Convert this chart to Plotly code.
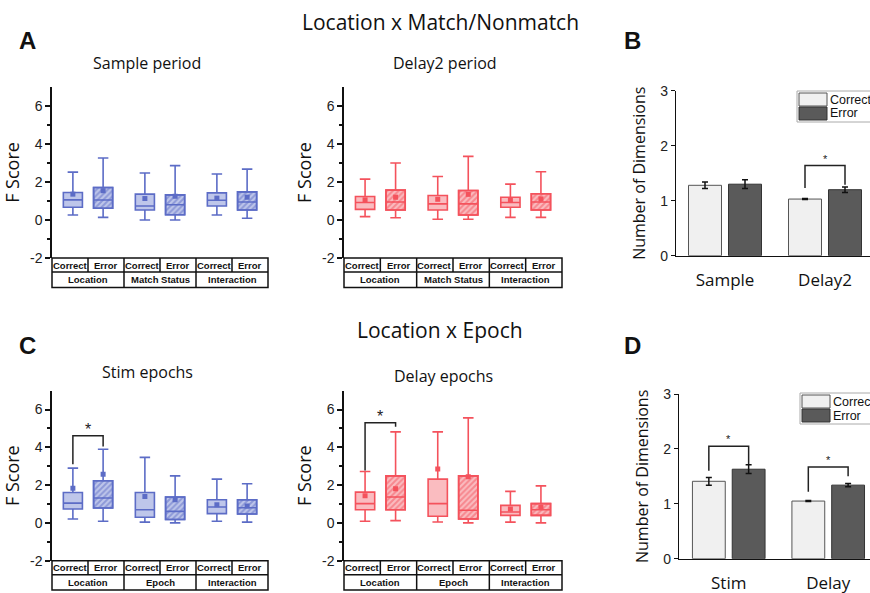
import plotly.graph_objects as go

W, H = 870, 593

# ---------------- data ----------------
box_groups = ["Location", "Match Status", "Interaction"]
box_groups_c = ["Location", "Epoch", "Interaction"]
box_outcomes = ["Correct", "Error"]
box_ticks = [-2, 0, 2, 4, 6]
box_tick_labels = ["-2", "0", "2", "4", "6"]

# order: Location-Correct, Location-Error, Match-Correct, Match-Error, Inter-Correct, Inter-Error
sample_low = [0.26, 0.14, 0.00, 0.00, 0.26, 0.09]
sample_q1 = [0.67, 0.62, 0.53, 0.28, 0.74, 0.53]
sample_med = [1.06, 1.05, 0.74, 0.80, 1.04, 0.95]
sample_q3 = [1.45, 1.71, 1.36, 1.32, 1.43, 1.48]
sample_high = [2.52, 3.26, 2.47, 2.86, 2.42, 2.68]
sample_mean = [1.36, 1.54, 1.13, 1.25, 1.15, 1.20]

delay2_low = [0.18, 0.12, 0.04, 0.04, 0.14, 0.14]
delay2_q1 = [0.56, 0.53, 0.53, 0.26, 0.67, 0.53]
delay2_med = [0.92, 0.95, 0.85, 0.85, 0.92, 0.95]
delay2_q3 = [1.24, 1.57, 1.29, 1.55, 1.20, 1.38]
delay2_high = [2.15, 3.00, 2.29, 3.35, 1.89, 2.54]
delay2_mean = [1.06, 1.20, 1.09, 1.35, 1.06, 1.11]

stim_low = [0.21, 0.09, 0.04, 0.00, 0.09, 0.04]
stim_q1 = [0.74, 0.79, 0.30, 0.18, 0.49, 0.47]
stim_med = [1.05, 1.32, 0.70, 0.61, 0.84, 0.80]
stim_q3 = [1.61, 2.23, 1.61, 1.37, 1.23, 1.23]
stim_high = [2.90, 3.90, 3.47, 2.49, 2.32, 2.07]
stim_mean = [1.84, 2.58, 1.40, 1.23, 0.96, 0.90]

delayep_low = [0.09, 0.12, 0.05, 0.00, 0.04, 0.00]
delayep_q1 = [0.70, 0.70, 0.35, 0.21, 0.40, 0.40]
delayep_med = [1.02, 1.37, 1.02, 0.67, 0.58, 0.70]
delayep_q3 = [1.63, 2.49, 2.32, 2.49, 0.93, 1.02]
delayep_high = [2.72, 4.82, 4.82, 5.56, 1.67, 1.96]
delayep_mean = [1.44, 1.81, 2.86, 2.45, 0.74, 0.82]

# significance brackets in C (Location Correct vs Error): [left foot, top, right foot]
stim_bracket = [3.10, 4.61, 4.04]
delayep_bracket = [2.78, 5.30, 5.09]

b_categories = ["Sample", "Delay2"]
b_correct = [1.28, 1.03]
b_correct_err = [0.06, 0.01]
b_error = [1.30, 1.20]
b_error_err = [0.08, 0.05]
b_bracket_delay2 = [1.23, 1.64, 1.29]

d_categories = ["Stim", "Delay"]
d_correct = [1.41, 1.05]
d_correct_err = [0.07, 0.01]
d_error = [1.63, 1.34]
d_error_err = [0.08, 0.03]
d_bracket_stim = [1.60, 2.05, 1.72]
d_bracket_delay = [1.22, 1.67, 1.50]

# ---------------- style ----------------
BLUE_LINE = "rgb(92,108,198)"
BLUE_FILL = "rgb(190,198,234)"
RED_LINE = "rgb(244,82,92)"
RED_FILL = "rgb(250,188,192)"
SANS = "Open Sans, Noto Sans, sans-serif"
ARIAL = "Liberation Sans, Arial, sans-serif"

GROUP_CENTERS = [1.5, 3.5, 5.5]
BOX_OFF = 0.42
BOX_W = 0.53
positions = []
for c in GROUP_CENTERS:
    positions += [c - BOX_OFF, c + BOX_OFF]

BARGAP = 0.2
BAR_OFF = (1 - BARGAP) / 4


def px(x):
    return x / W


def py(y):
    return 1 - y / H


fig = go.Figure()
shapes = []
annotations = []


def add_box_panel(k, low, q1, med, q3, high, mean, lc, fc, groups, bracket=None):
    xa = "x" if k == 1 else f"x{k}"
    ya = "y" if k == 1 else f"y{k}"
    corr = [0, 2, 4]
    err = [1, 3, 5]
    fig.add_trace(go.Bar(
        x=[positions[i] for i in err], base=[q1[i] for i in err],
        y=[q3[i] - q1[i] for i in err], width=BOX_W,
        marker=dict(color=fc, line=dict(color=lc, width=1.6),
                    pattern=dict(shape="/", fgcolor=lc, bgcolor=fc, size=4, solidity=0.5)),
        xaxis=xa, yaxis=ya, showlegend=False, hoverinfo="skip"))
    for idx, fill in ((corr, fc), (err, "rgba(0,0,0,0)")):
        fig.add_trace(go.Box(
            x=[positions[i] for i in idx], q1=[q1[i] for i in idx],
            median=[med[i] for i in idx], q3=[q3[i] for i in idx],
            lowerfence=[low[i] for i in idx], upperfence=[high[i] for i in idx],
            width=BOX_W, fillcolor=fill, line=dict(color=lc, width=1.6),
            whiskerwidth=0.55, boxpoints=False, xaxis=xa, yaxis=ya,
            showlegend=False, hoverinfo="skip"))
    fig.add_trace(go.Scatter(
        x=positions, y=mean, mode="markers",
        marker=dict(symbol="square", size=5, color=lc),
        xaxis=xa, yaxis=ya, showlegend=False, hoverinfo="skip"))
    if bracket is not None:
        fig.add_trace(go.Scatter(
            x=[positions[0], positions[0], positions[1], positions[1]],
            y=[bracket[0], bracket[1], bracket[1], bracket[2]],
            mode="lines", line=dict(color="#222", width=1.5),
            xaxis=xa, yaxis=ya, showlegend=False, hoverinfo="skip"))
        annotations.append(dict(
            x=(positions[0] + positions[1]) / 2, y=bracket[1], xref=xa, yref=ya,
            text="*", showarrow=False, yanchor="bottom", yshift=-4,
            font=dict(family=ARIAL, size=16, color="#222")))
    # category table below axis
    xd = xa + " domain"
    yd = ya + " domain"
    r1, r2 = -0.082, -0.172
    line = dict(color="#111", width=1.5)
    shapes.append(dict(type="rect", xref=xd, yref=yd, x0=0, x1=1, y0=r2, y1=0, line=line))
    shapes.append(dict(type="line", xref=xd, yref=yd, x0=0, x1=1, y0=r1, y1=r1, line=line))
    for j in range(1, 6):
        shapes.append(dict(type="line", xref=xd, yref=yd, x0=j / 6, x1=j / 6,
                           y0=(r2 if j % 2 == 0 else r1), y1=0, line=line))
    for j in range(6):
        annotations.append(dict(
            x=(j + 0.5) / 6, y=r1 / 2, xref=xd, yref=yd,
            text="<b>" + box_outcomes[j % 2] + "</b>",
            showarrow=False, font=dict(family=ARIAL, size=9.5, color="#111"),
            xanchor="center", yanchor="middle"))
    for g in range(3):
        annotations.append(dict(
            x=(g + 0.5) / 3, y=(r1 + r2) / 2, xref=xd, yref=yd,
            text="<b>" + groups[g] + "</b>",
            showarrow=False, font=dict(family=ARIAL, size=9.5, color="#111"),
            xanchor="center", yanchor="middle"))


add_box_panel(1, sample_low, sample_q1, sample_med, sample_q3, sample_high, sample_mean,
              BLUE_LINE, BLUE_FILL, box_groups)
add_box_panel(2, delay2_low, delay2_q1, delay2_med, delay2_q3, delay2_high, delay2_mean,
              RED_LINE, RED_FILL, box_groups)
add_box_panel(3, stim_low, stim_q1, stim_med, stim_q3, stim_high, stim_mean,
              BLUE_LINE, BLUE_FILL, box_groups_c, stim_bracket)
add_box_panel(4, delayep_low, delayep_q1, delayep_med, delayep_q3, delayep_high, delayep_mean,
              RED_LINE, RED_FILL, box_groups_c, delayep_bracket)


def add_bar_panel(k, cats, corr, corr_err, err, err_err, brackets):
    xa, ya = f"x{k}", f"y{k}"
    xs = list(range(len(cats)))
    fig.add_trace(go.Bar(
        x=xs, y=corr, name="Correct",
        error_y=dict(type="data", array=corr_err, color="#111", thickness=1.5, width=3),
        marker=dict(color="#F0F0F0", line=dict(color="#555", width=1)),
        xaxis=xa, yaxis=ya, showlegend=False))
    fig.add_trace(go.Bar(
        x=xs, y=err, name="Error",
        error_y=dict(type="data", array=err_err, color="#111", thickness=1.5, width=3),
        marker=dict(color="#5A5A5A", line=dict(color="#333", width=1)),
        xaxis=xa, yaxis=ya, showlegend=False))
    for ci, br in brackets:
        fig.add_trace(go.Scatter(
            x=[ci - BAR_OFF, ci - BAR_OFF, ci + BAR_OFF, ci + BAR_OFF],
            y=[br[0], br[1], br[1], br[2]], mode="lines",
            line=dict(color="#222", width=1.5), xaxis=xa, yaxis=ya,
            showlegend=False, hoverinfo="skip"))
        annotations.append(dict(
            x=ci, y=br[1], xref=xa, yref=ya, text="*", showarrow=False,
            yanchor="bottom", yshift=-1, font=dict(family=ARIAL, size=11, color="#222")))


add_bar_panel(5, b_categories, b_correct, b_correct_err, b_error, b_error_err,
              [(1, b_bracket_delay2)])
add_bar_panel(6, d_categories, d_correct, d_correct_err, d_error, d_error_err,
              [(0, d_bracket_stim), (1, d_bracket_delay)])

# custom legends (cut off at the right edge as in the figure)
for (lx, ly) in ((797, 91), (800, 393)):
    shapes.append(dict(type="rect", xref="paper", yref="paper", x0=px(lx), x1=px(lx + 120),
                       y0=py(ly + 31), y1=py(ly), line=dict(color="#AAAAAA", width=1),
                       fillcolor="white", layer="above"))
    shapes.append(dict(type="rect", xref="paper", yref="paper", x0=px(lx + 2), x1=px(lx + 30),
                       y0=py(ly + 15), y1=py(ly + 2), line=dict(color="#555", width=1),
                       fillcolor="#F0F0F0", layer="above"))
    shapes.append(dict(type="rect", xref="paper", yref="paper", x0=px(lx + 2), x1=px(lx + 30),
                       y0=py(ly + 29), y1=py(ly + 16), line=dict(color="#333", width=1),
                       fillcolor="#5A5A5A", layer="above"))
    for t, dy in (("Correct", 8.5), ("Error", 22.5)):
        annotations.append(dict(x=px(lx + 31), y=py(ly + dy), xref="paper", yref="paper",
                                text=t, showarrow=False, xanchor="left", yanchor="middle",
                                font=dict(family=ARIAL, size=12.5, color="#111")))

# titles and panel letters
texts = [
    ("Location x Match/Nonmatch", 440, 22, 21, SANS, False),
    ("Sample period", 147, 63, 16, SANS, False),
    ("Delay2 period", 445, 63, 16, SANS, False),
    ("Location x Epoch", 440, 330, 21, SANS, False),
    ("Stim epochs", 147, 372, 16, SANS, False),
    ("Delay epochs", 443, 376, 16, SANS, False),
    ("A", 27, 40, 24, ARIAL, True),
    ("B", 632, 40, 24, ARIAL, True),
    ("C", 27, 345, 24, ARIAL, True),
    ("D", 632, 345, 24, ARIAL, True),
]
for t, x, y, s, f, b in texts:
    annotations.append(dict(x=px(x), y=py(y), xref="paper", yref="paper",
                            text=("<b>" + t + "</b>") if b else t, showarrow=False,
                            xanchor="center", yanchor="middle",
                            font=dict(family=f, size=s, color="#111")))

box_y = dict(range=[-2, 7], tickmode="array", tickvals=box_ticks, ticktext=box_tick_labels,
             ticks="outside", ticklen=5, tickwidth=1.5, tickcolor="#111",
             showline=True, linecolor="#111", linewidth=1.5, showgrid=False,
             zeroline=False, automargin=False,
             tickfont=dict(family=ARIAL, size=14, color="#222"),
             minor=dict(tickmode="array", tickvals=[-1, 1, 3, 5], ticks="outside",
                        ticklen=3, tickwidth=1.5, tickcolor="#111"),
             title=dict(text="F Score", font=dict(family=SANS, size=18, color="#111"),
                        standoff=6))
box_x = dict(range=[0.5, 6.5], visible=False, showgrid=False, zeroline=False,
             automargin=False)

bar_y = dict(range=[0, 3], tickmode="array", tickvals=[0, 1, 2, 3], ticks="outside",
             ticklen=4, tickwidth=1.2, tickcolor="#111", showline=True, linecolor="#111",
             linewidth=1.2, showgrid=False, zeroline=False, automargin=False,
             tickfont=dict(family=ARIAL, size=14, color="#222"),
             title=dict(text="Number of Dimensions",
                        font=dict(family=SANS, size=16, color="#111"), standoff=10))


def bar_x(cats, rng):
    return dict(range=rng, tickmode="array", tickvals=list(range(len(cats))), ticktext=cats,
                ticks="", showline=True, linecolor="#111", linewidth=1.2, showgrid=False,
                zeroline=False, automargin=False,
                tickfont=dict(family=SANS, size=17, color="#111"),
                ticklabelstandoff=9)


top_dom = [1 - 258 / H, 1 - 87 / H]
bot_dom = [1 - 560.7 / H, 1 - 390.7 / H]

fig.update_layout(
    width=W, height=H, margin=dict(l=0, r=0, t=0, b=0, autoexpand=False),
    paper_bgcolor="white", plot_bgcolor="white",
    barmode="group", bargap=BARGAP, bargroupgap=0.175,
    showlegend=False,
    xaxis=dict(box_x, domain=[px(52), px(268)], anchor="y"),
    yaxis=dict(box_y, domain=top_dom, anchor="x"),
    xaxis2=dict(box_x, domain=[px(344), px(562)], anchor="y2"),
    yaxis2=dict(box_y, domain=top_dom, anchor="x2"),
    xaxis3=dict(box_x, domain=[px(52), px(268)], anchor="y3"),
    yaxis3=dict(box_y, domain=bot_dom, anchor="x3"),
    xaxis4=dict(box_x, domain=[px(344), px(562)], anchor="y4"),
    yaxis4=dict(box_y, domain=bot_dom, anchor="x4"),
    xaxis5=dict(bar_x(b_categories, [-0.49, 1.45]), domain=[px(676), 1], anchor="y5"),
    yaxis5=dict(bar_y, domain=[1 - 255.7 / H, 1 - 90.7 / H], anchor="x5"),
    xaxis6=dict(bar_x(d_categories, [-0.5, 1.42]), domain=[px(679), 1], anchor="y6"),
    yaxis6=dict(bar_y, domain=[1 - 558.7 / H, 1 - 394 / H], anchor="x6"),
    shapes=shapes, annotations=annotations,
)

fig.write_html("out.html", config={"displayModeBar": False},
               post_script="document.body.style.margin='0';document.body.style.overflow='hidden';")
